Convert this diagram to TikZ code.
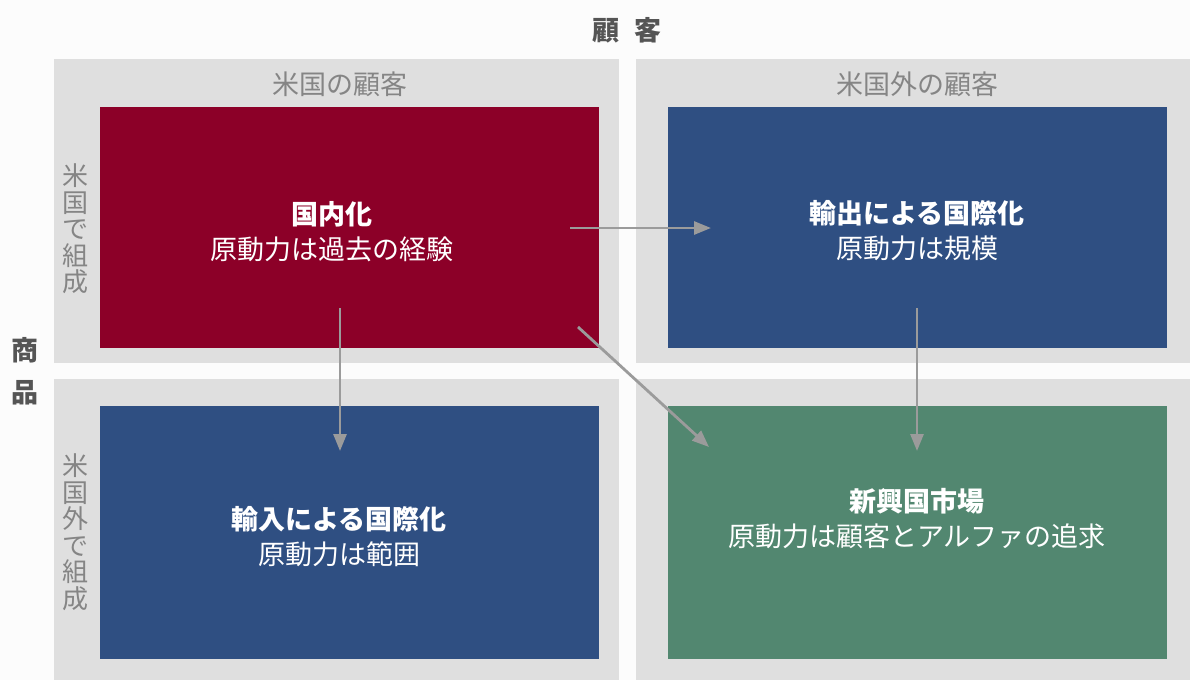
\documentclass[tikz,border=0pt]{standalone}
\usepackage{fontspec}
\setmainfont{Noto Sans CJK JP}
\usetikzlibrary{arrows.meta}
\definecolor{bg}{HTML}{FCFCFC}
\definecolor{panelgray}{HTML}{DFDFDF}
\definecolor{boxred}{HTML}{8C0028}
\definecolor{boxblue}{HTML}{2F4F82}
\definecolor{boxgreen}{HTML}{528770}
\definecolor{labelgray}{HTML}{858585}
\definecolor{titlegray}{HTML}{555555}
\definecolor{arrowgray}{HTML}{9B9B9B}
\setlength{\lineskiplimit}{-30pt}
\begin{document}
\begin{tikzpicture}[x=1pt,y=-1pt,
  quad/.style={anchor=north west, inner sep=0pt, outer sep=0pt, minimum width=499pt},
  boxtext/.style={text=white, align=center, font=\fontsize{27pt}{35pt}\selectfont},
  headlabel/.style={text=labelgray, font=\fontsize{27pt}{30pt}\selectfont},
  sidelabel/.style={text=labelgray, align=center, font=\fontsize{26pt}{26.5pt}\selectfont},
  axislabel/.style={text=titlegray, font=\fontsize{27pt}{30pt}\selectfont\bfseries},
  arr/.style={draw=arrowgray, line width=2.8pt, -{Triangle[length=17pt,width=13pt]}}]
\useasboundingbox (0,0) rectangle (1190,680);
\fill[bg] (0,0) rectangle (1190,680);
% panels
\fill[panelgray] (54,59) rectangle (619,363);
\fill[panelgray] (636,59) rectangle (1190,363);
\fill[panelgray] (54,379) rectangle (619,680);
\fill[panelgray] (636,379) rectangle (1190,680);
% boxes
\node[quad, fill=boxred, minimum height=241pt] (dom) at (100,107) {};
\node[quad, fill=boxblue, minimum height=241pt] (exp) at (668,107) {};
\node[quad, fill=boxblue, minimum height=253pt] (imp) at (100,406) {};
\node[quad, fill=boxgreen, minimum height=253pt] (emg) at (668,406) {};
% box texts
\node[boxtext] (tdom) at (332,232) {\textbf{国内化}\\原動力は過去の経験};
\node[boxtext] (texp) at (917,230.5) {\textbf{輸出による国際化}\\原動力は規模};
\node[boxtext] (timp) at (339,536.5) {\textbf{輸入による国際化}\\原動力は範囲};
\node[boxtext] (temg) at (917,519) {\textbf{新興国市場}\\原動力は顧客とアルファの追求};
% labels
\node[headlabel] (lus) at (340,84) {米国の顧客};
\node[headlabel] (lnus) at (917,84) {米国外の顧客};
\node[sidelabel] (sus) at (75,229) {米\\国\\で\\組\\成};
\node[sidelabel] (snus) at (75,532) {米\\国\\外\\で\\組\\成};
\node[axislabel] (cust) at (627,30) {顧\hspace{15pt}客};
\node[axislabel] (prod1) at (24.5,350) {商};
\node[axislabel] (prod2) at (24.5,393) {品};
% arrow anchors
\coordinate (a1s) at (570,228);
\coordinate (a1e) at (711,228);
\coordinate (a2s) at (340,308);
\coordinate (a2e) at (340,451);
\coordinate (a3s) at (578,327);
\coordinate (a3e) at (709,447);
\coordinate (a4s) at (917,308);
\coordinate (a4e) at (917,451);
\draw[arr] (a1s) -- (a1e);
\draw[arr] (a2s) -- (a2e);
\draw[arr] (a3s) -- (a3e);
\draw[arr] (a4s) -- (a4e);
\end{tikzpicture}
\end{document}
